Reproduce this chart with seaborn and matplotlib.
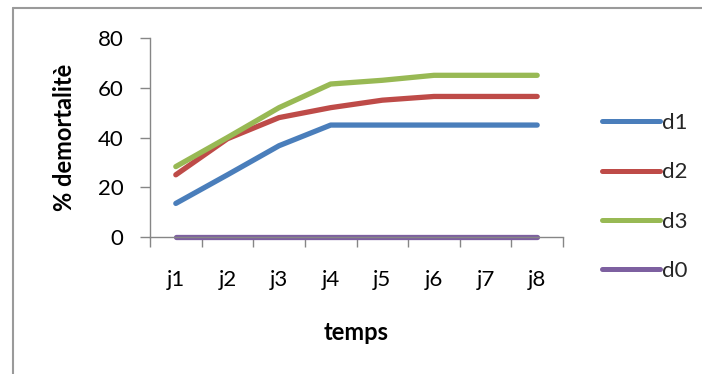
import numpy as np
import pandas as pd
import matplotlib
matplotlib.use("Agg")
import matplotlib.pyplot as plt
import seaborn as sns
from matplotlib.lines import Line2D

# Mortality (%) per day for each dose
days = ["j1", "j2", "j3", "j4", "j5", "j6", "j7", "j8"]
d1 = [13.5, 25, 36.7, 45, 45, 45, 45, 45]
d2 = [25, 39.5, 48, 52, 55, 56.5, 56.5, 56.5]
d3 = [28.3, 40, 52, 61.5, 63, 65, 65, 65]
d0 = [0, 0, 0, 0, 0, 0, 0, 0]
series = ["d1", "d2", "d3", "d0"]
colors = ["#4A7EBB", "#BE4B48", "#98B954", "#7D60A0"]
yticks = [0, 20, 40, 60, 80]

sns.set_theme(style="white")
plt.rcParams["font.family"] = ["Lato", "DejaVu Sans"]

df = pd.DataFrame({
    "pos": np.tile(np.arange(len(days)), len(series)),
    "val": d1 + d2 + d3 + d0,
    "serie": np.repeat(series, len(days)),
})

W, H = 702, 374
fig = plt.figure(figsize=(W / 100, H / 100), dpi=100)
ax = fig.add_axes([150 / W, 1 - 237 / H, 413 / W, 199 / H])

sns.lineplot(data=df, x="pos", y="val", hue="serie", hue_order=series,
             palette=colors, linewidth=3.8, ax=ax, legend=False,
             solid_capstyle="round")
for ln in ax.lines:
    ln.set_clip_on(False)

grey = "#868686"
ax.set_xlim(-0.5, len(days) - 0.5)
ax.set_ylim(0, 80)
ax.set_yticks(yticks)
ax.set_xticks(np.arange(len(days)))
ax.set_xticklabels(days)
ax.set_xticks(np.arange(-0.5, len(days)), minor=True)
for s in ["top", "right"]:
    ax.spines[s].set_visible(False)
for s in ["left", "bottom"]:
    ax.spines[s].set_color(grey)
    ax.spines[s].set_linewidth(1)
ax.tick_params(axis="y", which="major", left=True, length=7, width=1,
               color=grey, pad=12, labelsize=16, labelcolor="black")
ax.tick_params(axis="x", which="major", bottom=True, length=0, pad=24,
               labelsize=16, labelcolor="black")
ax.tick_params(axis="x", which="minor", bottom=True, length=7, width=1,
               color=grey, direction="out")
ax.set_xlabel("")
ax.set_ylabel("")

fig.text(356 / W, 1 - 333 / H, "temps", ha="center", va="center",
         fontsize=17, fontweight="bold", color="black")
fig.text(64 / W, 1 - 137.5 / H, "% demortalitè", ha="center", va="center",
         rotation=90, fontsize=17, fontweight="bold", color="black")

handles = [Line2D([], [], color=c, linewidth=3.6, solid_capstyle="round")
           for c in colors]
fig.legend(handles, series, loc="upper left",
           bbox_to_anchor=(602 / W, 1 - 113 / H), frameon=False,
           fontsize=16, handlelength=2.6, handletextpad=0.1,
           labelspacing=1.32, borderpad=0, borderaxespad=0)

# outer frame around the chart area
fig.add_artist(Line2D([12.5 / W, 12.5 / W], [0, 1 - 8 / H], color="#9a9a9a",
                      linewidth=1.5, transform=fig.transFigure))
fig.add_artist(Line2D([12.5 / W, 1], [1 - 8 / H, 1 - 8 / H], color="#9a9a9a",
                      linewidth=1.5, transform=fig.transFigure))

fig.savefig("out.png", dpi=100)
